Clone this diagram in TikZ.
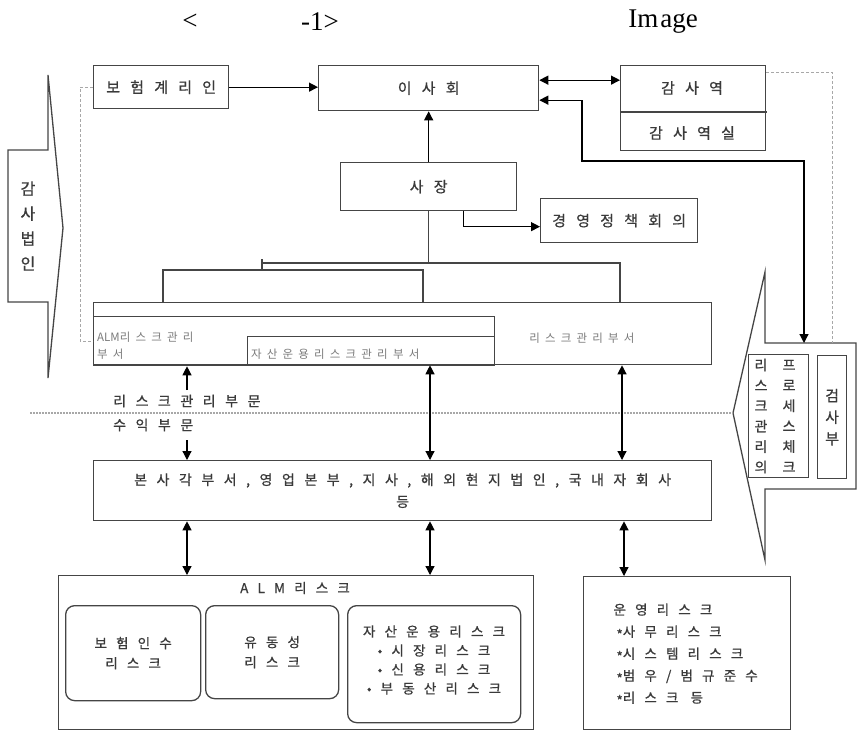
\documentclass[tikz,border=0pt]{standalone}
\usepackage{fontspec}
\setmainfont{Liberation Serif}
\newfontfamily\krA[LetterSpace=68,FakeBold=0.8]{Noto Sans CJK KR}
\newfontfamily\krB[LetterSpace=45]{Noto Sans CJK KR}
\newfontfamily\krC[FakeBold=0.8]{Noto Sans CJK KR}
\usetikzlibrary{arrows.meta,calc}
\definecolor{ln}{HTML}{454545}
\definecolor{tx}{HTML}{3A3A3A}
\definecolor{tg}{HTML}{7A7A7A}
\definecolor{dl}{HTML}{A8A8A8}
\begin{document}
\begin{tikzpicture}[x=1pt,y=-1pt,
  box/.style={draw=ln, line width=1.3pt, inner sep=0pt, anchor=north west, text=tx},
  rbox/.style={box, rounded corners=9pt},
  ttl/.style={font=\fontsize{27}{30}\selectfont, inner sep=0pt, text=black},
  tA/.style={font=\fontsize{15}{17}\krA, text=tx},
  tS/.style={font=\fontsize{14}{16}\krA, text=tx},
  tG/.style={font=\fontsize{11.5}{16}\krB, text=tg, inner sep=0pt},
  conn/.style={draw=ln, line width=1.3pt},
  arr/.style={-{Triangle[length=9pt,width=9pt]}, line width=1.2pt, draw=black},
  dbl/.style={{Triangle[length=9pt,width=9pt]}-{Triangle[length=9pt,width=9pt]}, line width=1.2pt, draw=black},
  dsh/.style={draw=dl, line width=1pt, dashed, dash pattern=on 3pt off 2pt},
  dotl/.style={draw=dl, line width=2.2pt, dash pattern=on 1.5pt off 1.5pt}
]
\useasboundingbox (0,0) rectangle (858,731);
% title
\node[ttl] (t1) at (190,22) {<};
\node[ttl] (t2) at (320,22) {-1>};
\node[ttl] (t3) at (663,22) {Im\kern2pt age};
% top boxes
\node[box, minimum width=135, minimum height=43, tA] (bohum) at (93,65) {보험계리인};
\node[box, minimum width=220, minimum height=45, tA] (isa) at (318,65) {이사회};
\node[box, minimum width=145, minimum height=85] (gamsa) at (620,65) {};
\draw[conn] (gamsa.west |- 0,112) -- ++(147,0);
\node[tA] (gamsa1) at (692,88) {감사역};
\node[tA] (gamsa2) at (692,133) {감사역실};
\node[box, minimum width=176, minimum height=48, tA] (sajang) at (340,162) {사장};
\node[box, minimum width=157, minimum height=44, tA] (policy) at (540,198) {경영정책회의};
% risk management boxes
\node[box, minimum width=618, minimum height=62] (risk) at (93,302) {};
\node[tG, anchor=center] (risklbl) at (582,338) {리스크관리부서};
\node[box, minimum width=401, minimum height=49] (alm) at (93,316) {};
\node[tG, anchor=west, align=left, font=\fontsize{11.5}{17}\krB] (almlbl) at (97,346) {{\addfontfeatures{LetterSpace=0}ALM}리스크관리\\부서};
\node[box, minimum width=247, minimum height=28] (asset) at (247,336) {};
\node[tG, anchor=west] (assetlbl) at (251,354) {자산운용리스크관리부서};
% hq
\node[box, minimum width=618, minimum height=60, tS, align=center, font=\fontsize{14}{22}\krA] (hq) at (93,460) {본사각부서,영업본부,지사,해외현지법인,국내자회사\\등};
% ALM risk
\node[box, minimum width=475, minimum height=154] (almrisk) at (58,575) {};
\node[tS, font=\fontsize{13.5}{16}\krA] (almtitle) at (295,588) {ALM리스크};
\node[rbox, minimum width=135, minimum height=95, tS, align=center, font=\fontsize{13.5}{20}\krA] (r1) at (65,605) {보험인수\\리스크};
\node[rbox, minimum width=133, minimum height=93, tS, align=center, font=\fontsize{13.5}{20}\krA] (r2) at (205,605) {유동성\\리스크};
\node[rbox, minimum width=173, minimum height=117] (r3) at (347,605) {};
\node[tS, align=center, font=\fontsize{13.5}{19}\krA] (r3t) at (434,660) {자산운용리스크\\•시장리스크\\•신용리스크\\•부동산리스크};
% operational risk
\node[box, minimum width=207, minimum height=153] (op) at (583,576) {};
\node[tS, anchor=north west, align=left, font=\fontsize{13.5}{22}\krA] (opt) at (610,600) {운영리스크\\\hspace{3pt}\raisebox{-3pt}{*}사무리스크\\\hspace{3pt}\raisebox{-3pt}{*}시스템리스크\\\hspace{3pt}\raisebox{-3pt}{*}범우/범규준수\\\hspace{3pt}\raisebox{-3pt}{*}리스크 등};
% left big arrow
\draw[conn] (8,150) -- (48,150) -- (48,75) -- (63,228) -- (48,378) -- (48,302) -- (8,302) -- cycle;
\node[text=tx, align=center, font=\fontsize{16}{25}\krC, inner sep=0pt] (auditor) at (28,226) {감\\사\\법\\인};
% right big arrow
\coordinate (rtop) at (804,343);
\coordinate (rtop2) at (832,343);
\coordinate (rtip) at (733,413);
\draw[conn] (856,343) -- (765,343) -- (765,272) -- (rtip) -- (765,560) -- (765,489) -- (856,489) -- cycle;
\node[box, minimum width=60, minimum height=123, draw=ln] (proc) at (748,354) {};
\node[text=tx, align=center, font=\fontsize{14}{20.4}\krC, inner sep=0pt] (proc1) at (761,416) {리\\스\\크\\관\\리\\의};
\node[text=tx, align=center, font=\fontsize{14}{20.4}\krC, inner sep=0pt] (proc2) at (789,416) {프\\로\\세\\스\\체\\크};
\node[box, minimum width=29, minimum height=123, align=center, font=\fontsize{15}{21.5}\krC] (insp) at (817,355) {검\\사\\부};
% connectors top
\draw[arr] (bohum.east) -- (isa.west |- bohum.east);
\draw[dbl] ([yshift=8pt]isa.east) -- ([yshift=8pt]isa.east -| gamsa.west);
\coordinate (b1) at (582,161);
\draw[dbl] ([yshift=-12pt]isa.east) -| (b1) -| (rtop);
\draw[arr] (sajang.north) -- (isa.south);
\draw[arr] ([xshift=35pt]sajang.south) |- ([yshift=-6pt]policy.west);
\coordinate (busL) at (262,263);
\coordinate (busR) at (620,263);
\draw[conn] (sajang.south) -- (sajang.south |- busL);
\draw[conn] (busL) -- (busR) -- (busR |- risk.north);
\draw[conn] ([yshift=4pt]busL) -- (262,270);
\coordinate (brL) at (163,270);
\coordinate (brR) at (423,270);
\draw[conn] (brL |- risk.north) -- (brL) -- (brR) -- (brR |- risk.north);
% dashed
\draw[dsh] (bohum.west) -- ++(-13,0) |- (alm.west);
\draw[dsh] ([yshift=-7pt]gamsa.north east) -| (rtop2);
% division line
\draw[dotl] (30,413) -- (rtip);
\node[tS, anchor=west, inner sep=0pt] (riskdiv) at (113,401) {리스크관리부문};
\node[tS, anchor=west, inner sep=0pt] (profdiv) at (113,425) {수익부문};
\coordinate (a1) at (187,390);
\coordinate (a2) at (187,440);
\draw[arr] (a1) -- (a1 |- alm.south);
\draw[arr] (a2) -- (a2 |- hq.north);
\coordinate (m2) at (430,0);
\coordinate (m3) at (622,0);
\draw[dbl] (m2 |- risk.south) -- (m2 |- hq.north);
\draw[dbl] (m3 |- risk.south) -- (m3 |- hq.north);
\coordinate (l1) at (187,0);
\coordinate (l3) at (624,0);
\draw[dbl] (l1 |- hq.south) -- (l1 |- almrisk.north);
\draw[dbl] (m2 |- hq.south) -- (m2 |- almrisk.north);
\draw[dbl] (l3 |- hq.south) -- (l3 |- op.north);
\end{tikzpicture}
\end{document}
